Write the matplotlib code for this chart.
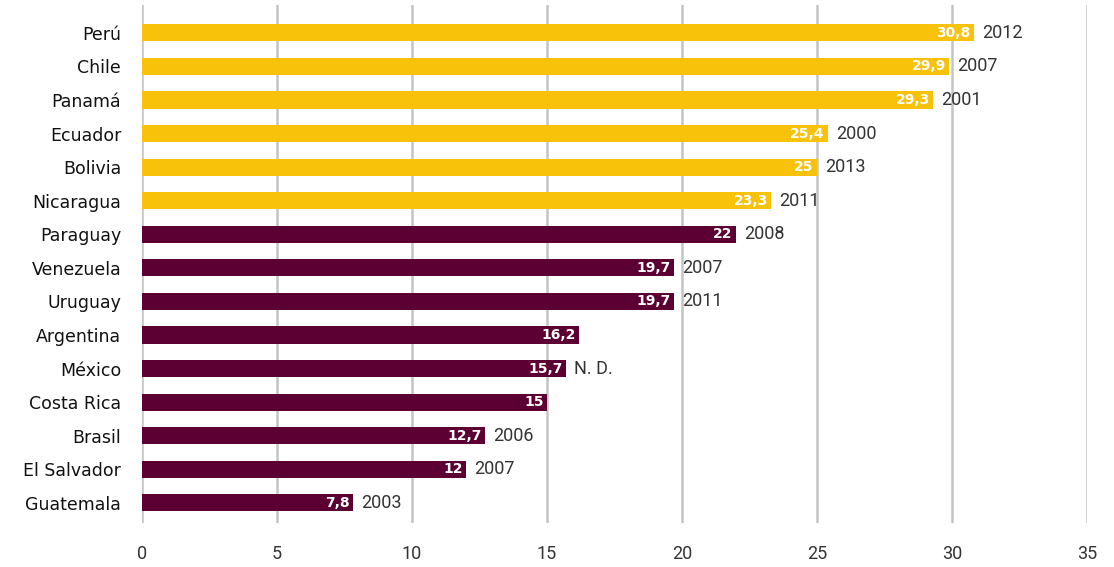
import matplotlib.pyplot as plt

# Data, top to bottom
countries = ['Perú', 'Chile', 'Panamá', 'Ecuador', 'Bolivia', 'Nicaragua', 'Paraguay',
             'Venezuela', 'Uruguay', 'Argentina', 'México', 'Costa Rica', 'Brasil',
             'El Salvador', 'Guatemala']
values = [30.8, 29.9, 29.3, 25.4, 25, 23.3, 22, 19.7, 19.7, 16.2, 15.7, 15, 12.7, 12, 7.8]
years = ['2012', '2007', '2001', '2000', '2013', '2011', '2008', '2007', '2011', '',
         'N. D.', '', '2006', '2007', '2003']
highlight = [True] * 6 + [False] * 9

yellow = '#F8C20A'
maroon = '#5C0033'

fig = plt.figure(figsize=(11.14, 5.67), dpi=100)
ax = fig.add_axes([0.1275, 0.0776, 0.8483, 0.9135])

pos = list(range(len(countries)))
colors = [yellow if h else maroon for h in highlight]
ax.barh(pos, values, height=0.51, color=colors, zorder=3)

for i, (v, yr) in enumerate(zip(values, years)):
    lbl = ('%g' % v).replace('.', ',')
    ax.text(v - 0.12, i, lbl, ha='right', va='center', color='white',
            fontsize=10, fontweight='bold', family='DejaVu Sans', zorder=4)
    if yr:
        ax.text(v + 0.3, i, yr, ha='left', va='center', color='#333333',
                fontsize=13, fontweight='normal', family='Roboto', zorder=4)

ax.set_xlim(0, 35)
ax.set_ylim(14.6, -0.83)
ax.set_xticks(range(0, 36, 5))
ax.set_yticks(pos)
ax.set_yticklabels(countries, fontsize=12.5, color='#111111')
for t in ax.get_xticklabels():
    t.set_fontsize(13)
    t.set_family('Roboto')
    t.set_color('#333333')

ax.grid(axis='x', color='#c4c4c4', linewidth=1.8, zorder=0)
ax.tick_params(axis='both', length=0)
ax.tick_params(axis='x', pad=16)
ax.tick_params(axis='y', pad=15)
for s in ax.spines.values():
    s.set_visible(False)

plt.savefig('out.png')
plt.close()
